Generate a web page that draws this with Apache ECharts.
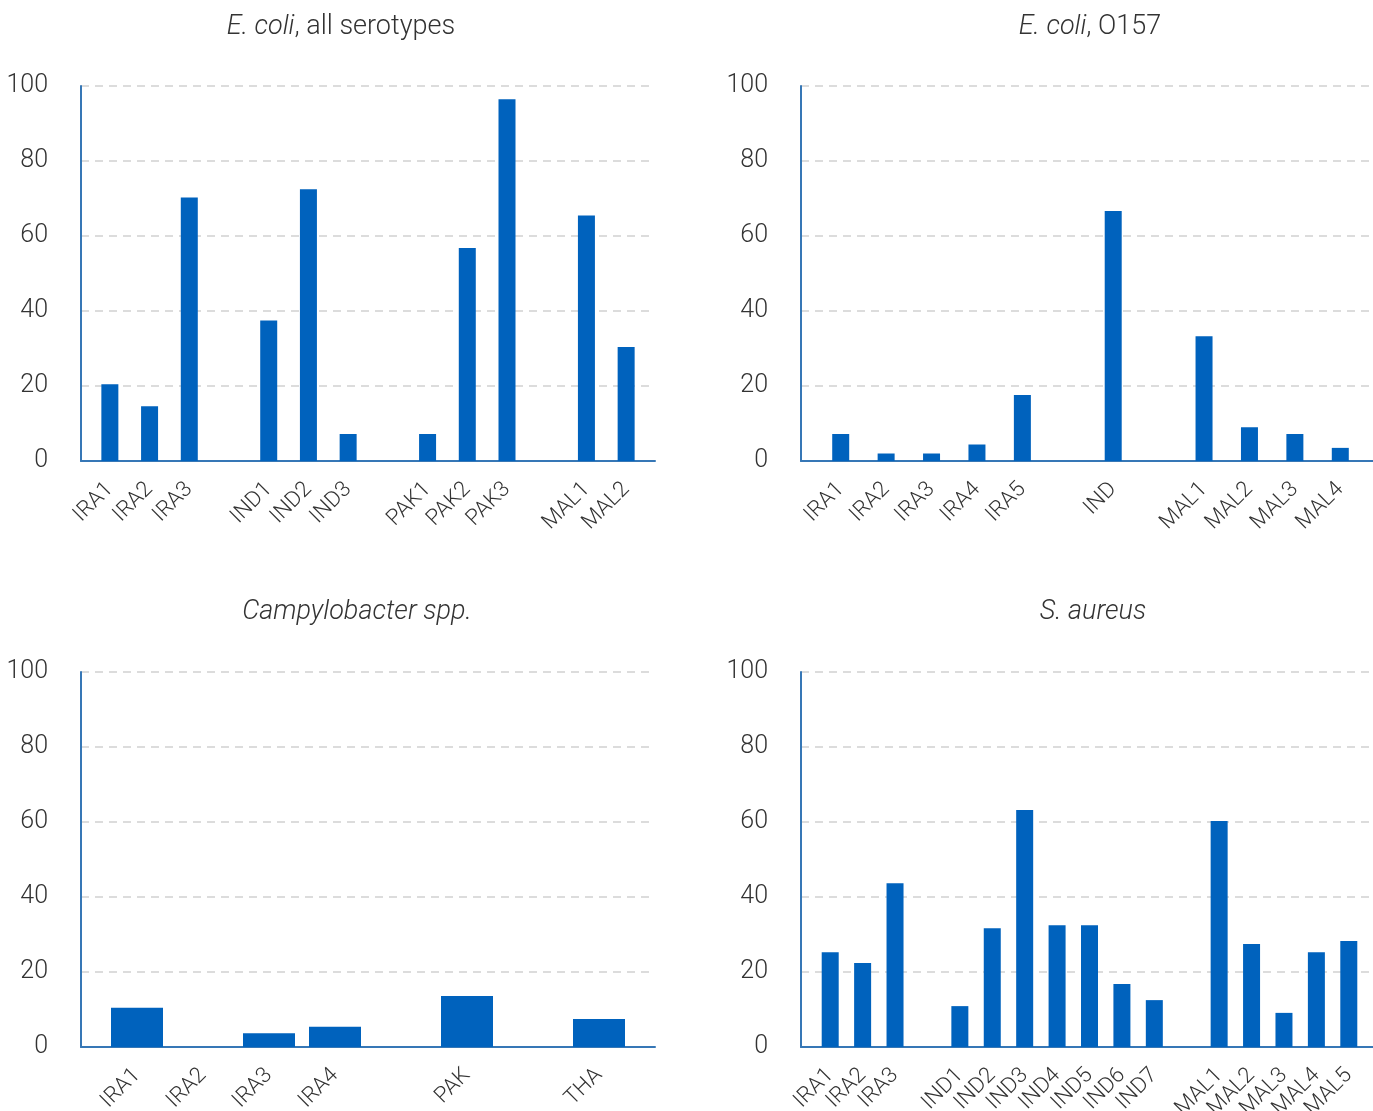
<!DOCTYPE html>
<html>
<head>
<meta charset="utf-8">
<script src="https://cdn.jsdelivr.net/npm/echarts@6/dist/echarts.min.js"></script>
<style>
html,body{margin:0;padding:0;background:#fff;}
#main{width:1373px;height:1111px;}
</style>
</head>
<body>
<div id="main"></div>
<script>
// ---- data ----
var yTicks = [0, 20, 40, 60, 80, 100];

var cats1 = ['IRA1','IRA2','IRA3','','IND1','IND2','IND3','','PAK1','PAK2','PAK3','','MAL1','MAL2'];
var vals1 = [20.5, 14.6, 70.3, null, 37.5, 72.5, 7.2, null, 7.2, 56.8, 96.5, null, 65.5, 30.4];

var cats2 = ['IRA1','IRA2','IRA3','IRA4','IRA5','','IND','','MAL1','MAL2','MAL3','MAL4'];
var vals2 = [7.2, 2.0, 2.0, 4.4, 17.6, null, 66.7, null, 33.3, 9.0, 7.2, 3.5];

var cats3 = ['IRA1','IRA2','IRA3','IRA4','','PAK','','THA'];
var vals3 = [10.5, 0, 3.7, 5.4, null, 13.6, null, 7.5];

var cats4 = ['IRA1','IRA2','IRA3','','IND1','IND2','IND3','IND4','IND5','IND6','IND7','','MAL1','MAL2','MAL3','MAL4','MAL5'];
var vals4 = [25.3, 22.4, 43.7, null, 10.9, 31.7, 63.2, 32.5, 32.5, 16.8, 12.5, null, 60.3, 27.5, 9.1, 25.3, 28.3];

var titles = [
  '{i|E. coli}{n|, all serotypes}',
  '{i|E. coli}{n|, O157}',
  '{i|Campylobacter spp.}',
  '{i|S. aureus}'
];

// ---- layout ----
var FONT = 'Roboto';
var BAR = '#0062BD';
var AXIS = '#3677B6';
var TXT = '#333333';

var panels = [
  {cats: cats1, vals: vals1, frame: {left: 81, top: 86, width: 574, height: 375}, bars: {left: 90, width: 556}, bw: 17, tx: 336, ty: 9},
  {cats: cats2, vals: vals2, frame: {left: 801, top: 86, width: 572, height: 375}, bars: {left: 818, width: 545}, bw: 17, tx: 1085, ty: 9},
  {cats: cats3, vals: vals3, frame: {left: 81, top: 672, width: 574, height: 375}, bars: {left: 104, width: 528}, bw: 52, tx: 352, ty: 594},
  {cats: cats4, vals: vals4, frame: {left: 801, top: 672, width: 572, height: 375}, bars: {left: 814, width: 551}, bw: 17, tx: 1088, ty: 594}
];

var grid = [], xAxis = [], yAxis = [], series = [], title = [];
panels.forEach(function (p, i) {
  var fi = grid.length;
  grid.push({left: p.frame.left, top: p.frame.top, width: p.frame.width, height: p.frame.height, containLabel: false, outerBoundsMode: 'none'});
  var bi = grid.length;
  grid.push({left: p.bars.left, top: p.frame.top, width: p.bars.width, height: p.frame.height, containLabel: false, outerBoundsMode: 'none'});

  xAxis.push({
    gridIndex: fi, type: 'value', min: 0, max: 1,
    axisLine: {show: true, onZero: false, lineStyle: {color: AXIS, width: 2}},
    axisTick: {show: false}, axisLabel: {show: false}, splitLine: {show: false}
  });
  yAxis.push({
    gridIndex: fi, type: 'value', min: yTicks[0], max: yTicks[yTicks.length - 1], interval: 20,
    axisLine: {show: true, lineStyle: {color: AXIS, width: 2}},
    axisTick: {show: false},
    axisLabel: {show: true, color: TXT, fontFamily: FONT, fontWeight: 300, fontSize: 25, margin: 33, padding: [4, 0, 0, 0]},
    splitLine: {show: true, lineStyle: {color: '#dcdcdc', width: 2, type: [8, 6]}}
  });
  xAxis.push({
    gridIndex: bi, type: 'category', data: p.cats, boundaryGap: true,
    axisLine: {show: false}, axisTick: {show: false}, splitLine: {show: false},
    axisLabel: {show: true, interval: 0, rotate: 45, color: TXT, fontFamily: FONT, fontWeight: 300, fontSize: 22, margin: 25}
  });
  yAxis.push({
    gridIndex: bi, type: 'value', min: 0, max: 100, show: false, splitLine: {show: false}
  });
  series.push({
    type: 'bar', xAxisIndex: 2 * i + 1, yAxisIndex: 2 * i + 1,
    data: p.vals, barWidth: p.bw, itemStyle: {color: BAR}, silent: true, z: 3
  });
  series.push({type: 'bar', xAxisIndex: 2 * i, yAxisIndex: 2 * i, data: []});
  title.push({
    text: titles[i], left: p.tx, top: p.ty, textAlign: 'center',
    textStyle: {
      rich: {
        i: {fontStyle: 'italic', fontFamily: FONT, fontWeight: 300, fontSize: 27, color: TXT},
        n: {fontFamily: FONT, fontWeight: 300, fontSize: 27, color: TXT}
      }
    }
  });
});

var chart = echarts.init(document.getElementById('main'), null, {renderer: 'canvas'});
chart.setOption({
  animation: false,
  backgroundColor: '#ffffff',
  title: title,
  grid: grid,
  xAxis: xAxis,
  yAxis: yAxis,
  series: series
});
</script>
</body>
</html>
